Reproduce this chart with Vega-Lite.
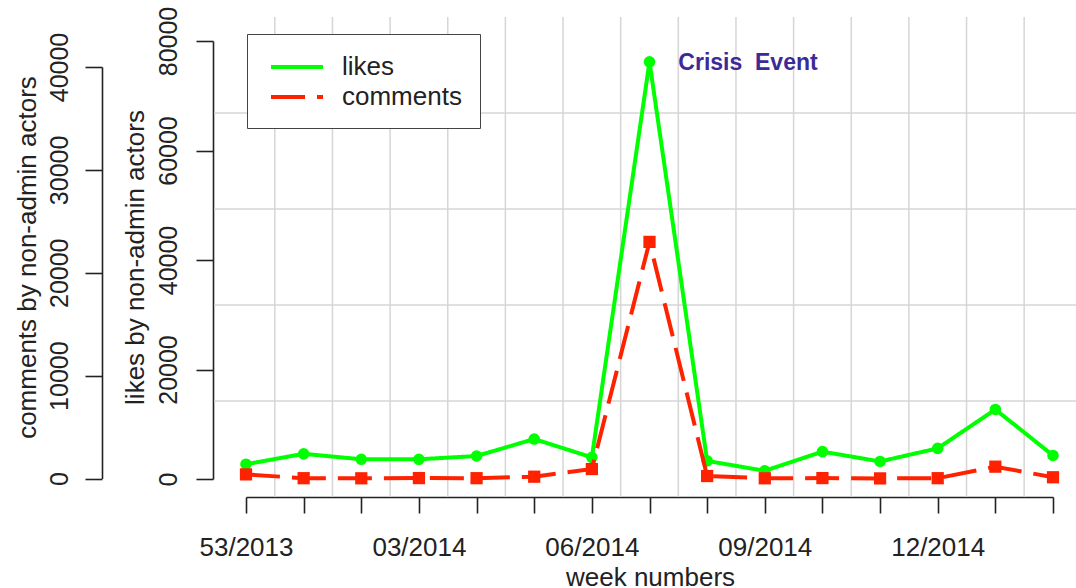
{
  "$schema": "https://vega.github.io/schema/vega-lite/v6.json",
  "width": 862,
  "height": 480,
  "autosize": {"type": "none"},
  "padding": {"left": 214, "top": 17, "right": 0, "bottom": 91},
  "background": "white",
  "config": {"view": {"stroke": null}, "font": "Liberation Sans"},
  "datasets": {
    "counts": [
      {"week": 1, "series": "likes", "value": 2700},
      {"week": 2, "series": "likes", "value": 4600},
      {"week": 3, "series": "likes", "value": 3600},
      {"week": 4, "series": "likes", "value": 3600},
      {"week": 5, "series": "likes", "value": 4200},
      {"week": 6, "series": "likes", "value": 7300},
      {"week": 7, "series": "likes", "value": 3950},
      {"week": 8, "series": "likes", "value": 76200},
      {"week": 9, "series": "likes", "value": 3300},
      {"week": 10, "series": "likes", "value": 1500},
      {"week": 11, "series": "likes", "value": 5000},
      {"week": 12, "series": "likes", "value": 3200},
      {"week": 13, "series": "likes", "value": 5600},
      {"week": 14, "series": "likes", "value": 12700},
      {"week": 15, "series": "likes", "value": 4300},
      {"week": 1, "series": "comments", "value": 400},
      {"week": 2, "series": "comments", "value": 30},
      {"week": 3, "series": "comments", "value": 20},
      {"week": 4, "series": "comments", "value": 40},
      {"week": 5, "series": "comments", "value": 30},
      {"week": 6, "series": "comments", "value": 175},
      {"week": 7, "series": "comments", "value": 920},
      {"week": 8, "series": "comments", "value": 23000},
      {"week": 9, "series": "comments", "value": 240},
      {"week": 10, "series": "comments", "value": 20},
      {"week": 11, "series": "comments", "value": 40},
      {"week": 12, "series": "comments", "value": 10},
      {"week": 13, "series": "comments", "value": 30},
      {"week": 14, "series": "comments", "value": 1150},
      {"week": 15, "series": "comments", "value": 120}
    ],
    "vgrid": [
      {"gx": 1.5}, {"gx": 2.5}, {"gx": 3.5}, {"gx": 4.5}, {"gx": 5.5}, {"gx": 6.5}, {"gx": 7.5},
      {"gx": 8.5}, {"gx": 9.5}, {"gx": 10.5}, {"gx": 11.5}, {"gx": 12.5}, {"gx": 13.5}, {"gx": 14.5}
    ],
    "hgrid": [{"gy": 1}, {"gy": 2}, {"gy": 3}, {"gy": 4}],
    "notes": [{"week": 8.5, "likes": 76000, "note": "Crisis\u00a0 Event"}]
  },
  "resolve": {
    "scale": {"y": "independent", "color": "shared", "strokeDash": "shared"},
    "axis": {"y": "independent"}
  },
  "layer": [
    {
      "data": {"name": "hgrid"},
      "mark": {"type": "rule", "color": "#d6d6d6", "strokeWidth": 1.5},
      "encoding": {
        "y": {"field": "gy", "type": "quantitative", "scale": {"domain": [0, 5], "range": [480, 0], "nice": false, "zero": false}, "axis": null}
      }
    },
    {
      "data": {"name": "vgrid"},
      "mark": {"type": "rule", "color": "#d6d6d6", "strokeWidth": 1.5},
      "encoding": {
        "x": {
          "field": "gx", "type": "quantitative",
          "scale": {"domain": [1, 15], "range": [32, 839], "nice": false, "zero": false},
          "axis": {
            "values": [1, 2, 3, 4, 5, 6, 7, 8, 9, 10, 11, 12, 13, 14, 15],
            "labelExpr": "datum.value == 1 ? '53/2013' : datum.value == 4 ? '03/2014' : datum.value == 7 ? '06/2014' : datum.value == 10 ? '09/2014' : datum.value == 13 ? '12/2014' : ''",
            "title": "week numbers", "grid": false,
            "domainColor": "#222", "domainWidth": 1.6, "tickColor": "#222", "tickWidth": 1.6, "tickSize": 16,
            "labelFontSize": 26, "labelColor": "#222", "labelPadding": 42, "labelBaseline": "alphabetic",
            "labelFlush": false, "labelOverlap": false, "labelBound": false,
            "titleFontSize": 26, "titleFontWeight": "normal", "titleColor": "#222",
            "titleX": 436, "titleY": 88, "titleBaseline": "alphabetic", "titleAlign": "center"
          }
        }
      }
    },
    {
      "data": {"name": "counts"},
      "transform": [{"filter": "datum.series == 'likes'"}],
      "mark": {"type": "line", "strokeWidth": 4},
      "encoding": {
        "x": {"field": "week", "type": "quantitative", "scale": {"domain": [1, 15], "range": [32, 839], "nice": false, "zero": false}},
        "y": {
          "field": "value", "type": "quantitative",
          "scale": {"domain": [0, 80000], "range": [462, 24], "nice": false, "zero": false},
          "axis": {
            "orient": "left", "offset": 1, "values": [0, 20000, 40000, 60000, 80000], "format": "d",
            "title": "likes by non-admin actors", "grid": false,
            "domainColor": "#222", "domainWidth": 1.6, "tickColor": "#222", "tickWidth": 1.6, "tickSize": 17,
            "labelFontSize": 25, "labelColor": "#222", "labelAngle": 270, "labelAlign": "center", "labelBaseline": "alphabetic",
            "labelPadding": 20, "labelOverlap": false, "labelFlush": false, "labelBound": false,
            "titleFontSize": 26, "titleFontWeight": "normal", "titleColor": "#222", "titleAngle": 270,
            "titleAlign": "center", "titleBaseline": "alphabetic", "titleX": -70, "titleY": 240
          }
        },
        "color": {
          "field": "series", "type": "nominal",
          "scale": {"domain": ["likes", "comments"], "range": ["#00ff00", "#ff2200"]},
          "legend": {
            "title": null, "orient": "none", "legendX": 33, "legendY": 17,
            "strokeColor": "#444", "fillColor": "white", "padding": 18, "rowPadding": 2,
            "symbolType": "M-2,0H2", "symbolSize": 676, "symbolStrokeWidth": 4, "symbolOffset": 17,
            "labelFontSize": 26, "labelColor": "#222", "labelOffset": 30
          }
        },
        "strokeDash": {
          "field": "series", "type": "nominal",
          "scale": {"domain": ["likes", "comments"], "range": [[1, 0], [34, 12]]},
          "legend": {
            "title": null, "orient": "none", "legendX": 33, "legendY": 17,
            "strokeColor": "#444", "fillColor": "white", "padding": 18, "rowPadding": 2,
            "symbolType": "M-2,0H2", "symbolSize": 676, "symbolStrokeWidth": 4, "symbolOffset": 17,
            "labelFontSize": 26, "labelColor": "#222", "labelOffset": 30
          }
        }
      }
    },
    {
      "data": {"name": "counts"},
      "transform": [{"filter": "datum.series == 'likes'"}],
      "mark": {"type": "point", "shape": "circle", "filled": true, "color": "#00ff00", "opacity": 1, "size": 135},
      "encoding": {
        "x": {"field": "week", "type": "quantitative", "scale": {"domain": [1, 15], "range": [32, 839], "nice": false, "zero": false}},
        "y": {"field": "value", "type": "quantitative", "scale": {"domain": [0, 80000], "range": [462, 24], "nice": false, "zero": false}, "axis": null}
      }
    },
    {
      "data": {"name": "counts"},
      "transform": [{"filter": "datum.series == 'comments'"}],
      "mark": {"type": "line", "strokeWidth": 4},
      "encoding": {
        "x": {"field": "week", "type": "quantitative", "scale": {"domain": [1, 15], "range": [32, 839], "nice": false, "zero": false}},
        "y": {
          "field": "value", "type": "quantitative",
          "scale": {"domain": [0, 40000], "range": [461.5, 50], "nice": false, "zero": false},
          "axis": {
            "orient": "left", "offset": 112, "values": [0, 10000, 20000, 30000, 40000], "format": "d",
            "title": "comments by non-admin actors", "grid": false,
            "domainColor": "#222", "domainWidth": 1.6, "tickColor": "#222", "tickWidth": 1.6, "tickSize": 17,
            "labelFontSize": 25, "labelColor": "#222", "labelAngle": 270, "labelAlign": "center", "labelBaseline": "alphabetic",
            "labelPadding": 18, "labelOverlap": false, "labelFlush": false, "labelBound": false,
            "titleFontSize": 26, "titleFontWeight": "normal", "titleColor": "#222", "titleAngle": 270,
            "titleAlign": "center", "titleBaseline": "alphabetic", "titleX": -67, "titleY": 240
          }
        },
        "color": {"field": "series", "type": "nominal"},
        "strokeDash": {"field": "series", "type": "nominal"}
      }
    },
    {
      "data": {"name": "counts"},
      "transform": [{"filter": "datum.series == 'comments'"}],
      "mark": {"type": "point", "shape": "square", "filled": true, "color": "#ff2200", "opacity": 1, "size": 150},
      "encoding": {
        "x": {"field": "week", "type": "quantitative", "scale": {"domain": [1, 15], "range": [32, 839], "nice": false, "zero": false}},
        "y": {"field": "value", "type": "quantitative", "scale": {"domain": [0, 40000], "range": [461.5, 50], "nice": false, "zero": false}, "axis": null}
      }
    },
    {
      "data": {"name": "notes"},
      "mark": {"type": "text", "align": "left", "baseline": "middle", "fontSize": 23, "fontWeight": "bold", "color": "#3c2a96"},
      "encoding": {
        "x": {"field": "week", "type": "quantitative", "scale": {"domain": [1, 15], "range": [32, 839], "nice": false, "zero": false}},
        "y": {"field": "likes", "type": "quantitative", "scale": {"domain": [0, 80000], "range": [462, 24], "nice": false, "zero": false}, "axis": null},
        "text": {"field": "note", "type": "nominal"}
      }
    }
  ]
}
